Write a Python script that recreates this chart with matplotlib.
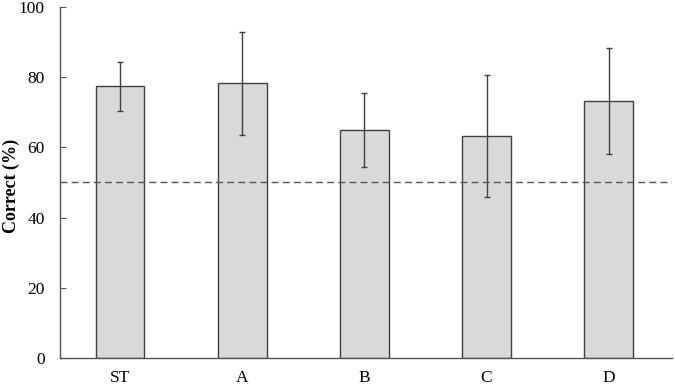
import matplotlib
matplotlib.use('Agg')
import matplotlib.pyplot as plt

# Dados
conditions = ['ST', 'A', 'B', 'C', 'D']
correct = [77.5, 78.3, 65.0, 63.3, 73.3]
errors = [7.0, 14.7, 10.5, 17.5, 15.1]
chance = 50

plt.rcParams['font.family'] = ['Liberation Serif', 'DejaVu Serif']

fig = plt.figure(figsize=(6.75, 3.85), dpi=100)
ax = fig.add_axes([0.089, 0.071, 0.907, 0.91])

x = range(len(conditions))
ax.bar(x, correct, width=0.4, color='#d9d9d9', edgecolor='#404040', linewidth=1.0,
       yerr=errors, error_kw=dict(ecolor='#404040', elinewidth=1.0, capsize=2.5, capthick=1.0),
       zorder=2)
ax.axhline(chance, color='#555555', linestyle=(0, (5, 3)), linewidth=1.0, zorder=3)

ax.set_xlim(-0.49, 4.52)
ax.set_ylim(0, 100)
ax.set_xticks(list(x))
ax.set_xticklabels(conditions)
ax.set_yticks([0, 20, 40, 60, 80, 100])
lbl = ax.set_ylabel('Correct (%)', fontweight='bold', fontsize=13)
lbl.set_va('center')
ax.yaxis.set_label_coords(-0.08, 0.49)

for s in ['top', 'right']:
    ax.spines[s].set_visible(False)
for s in ['left', 'bottom']:
    ax.spines[s].set_color('#555555')
    ax.spines[s].set_linewidth(1.0)
ax.tick_params(axis='y', direction='in', length=4, color='#555555', labelsize=12.5, pad=11)
ax.tick_params(axis='x', length=0, labelsize=12.5, pad=9)

fig.savefig('out.png', dpi=100)
